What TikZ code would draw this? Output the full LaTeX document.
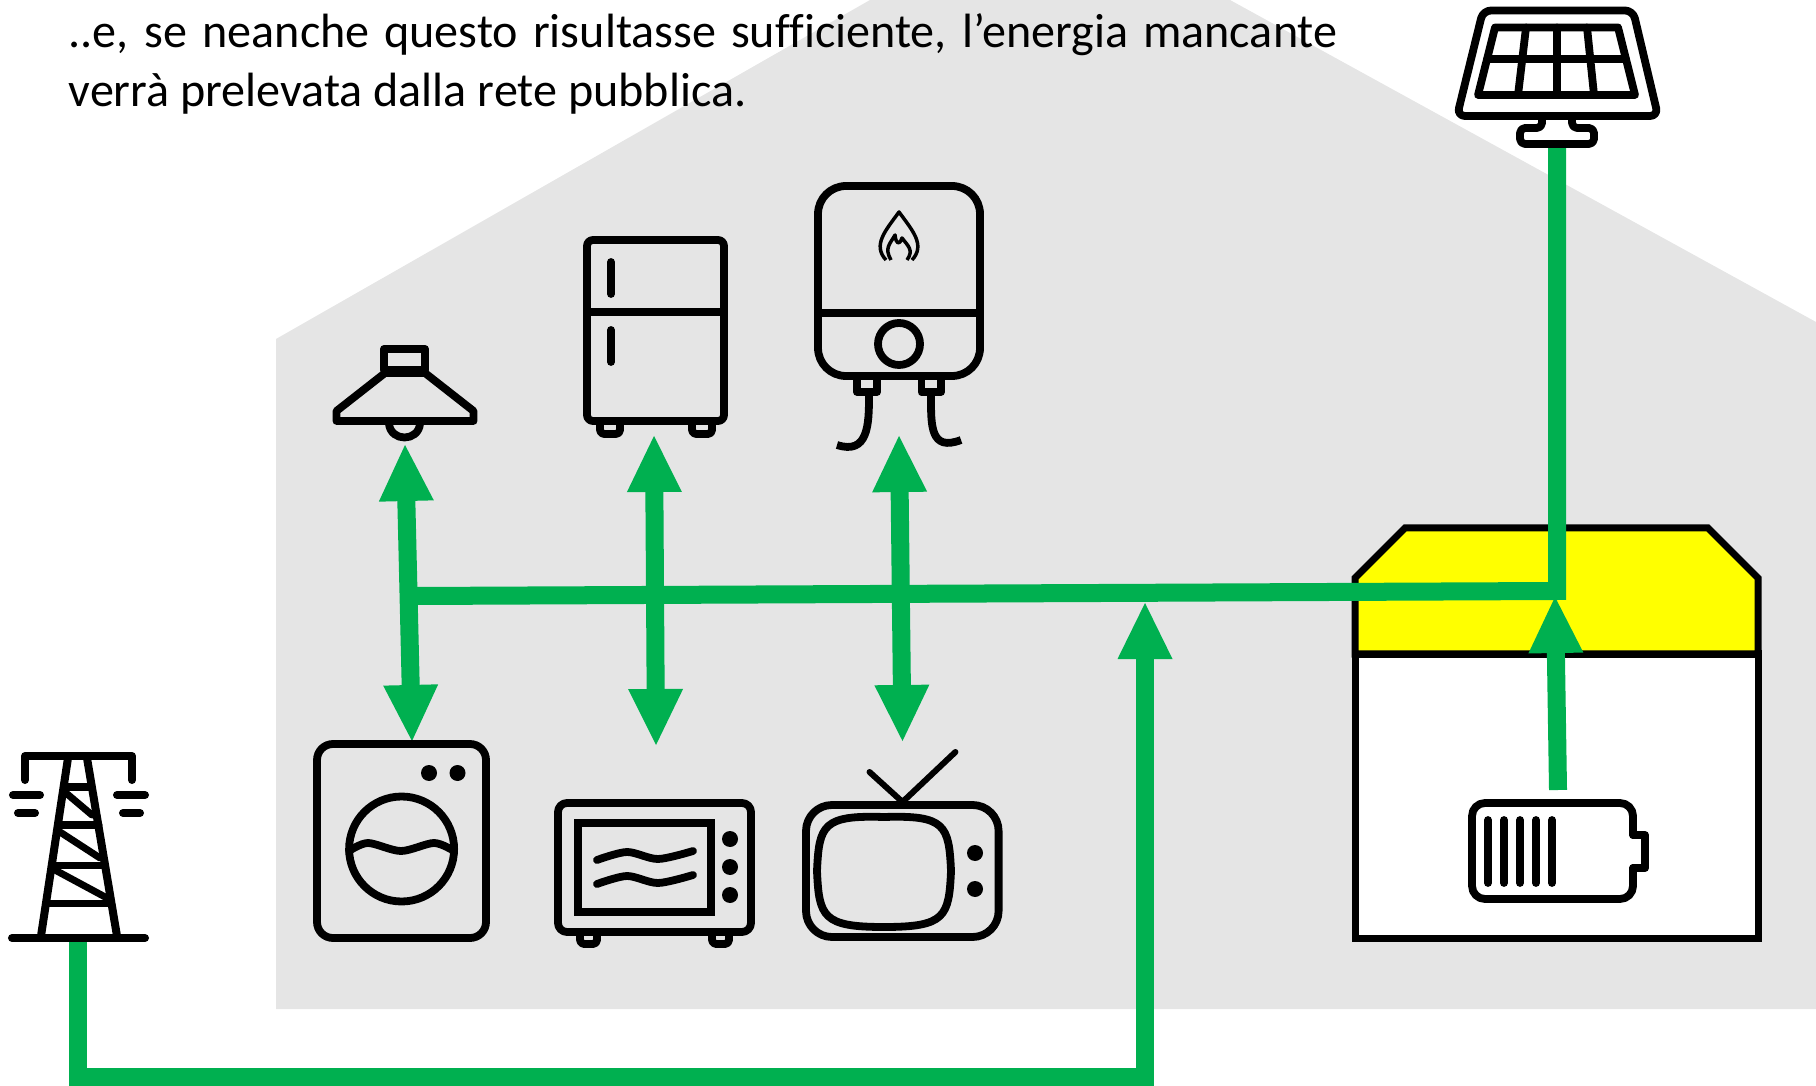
\documentclass[tikz,border=0pt]{standalone}
\usepackage{fontspec}
\setmainfont{Carlito}
\usetikzlibrary{arrows.meta}
\definecolor{flowgreen}{HTML}{00B050}
\definecolor{housegrey}{HTML}{E5E5E5}
\definecolor{boxyellow}{HTML}{FFFF00}
\tikzset{
  icon/.style={draw=black, line width=.078cm, line join=round, line cap=round},
  thinicon/.style={draw=black, line width=.035cm, line join=round},
  flowline/.style={draw=flowgreen, line width=.18cm, line join=miter},
  flowhead/.style={>={Triangle[length=.56cm,width=.55cm,line width=0pt,fill=flowgreen]}},
  dot/.style={fill=black}
}
\begin{document}
\begin{tikzpicture}[x=.01cm, y=-.01cm, flowhead]
  \useasboundingbox (0,0) rectangle (1816,1086);

  \fill[housegrey] (276,339) -- (870,0) -- (1230,0) -- (1816,322) -- (1816,1009) -- (276,1009) -- cycle;

  \node[anchor=north west, inner sep=0pt, text width=12.68cm, align=justify,
        font=\addfontfeatures{Ligatures=NoCommon}\fontsize{13.68pt}{16.8pt}\selectfont] (caption) at (68,13)
    {..e, se neanche questo risultasse sufficiente, l’energia mancante\linebreak verrà prelevata dalla rete pubblica.};

  \filldraw[fill=white, draw=black, line width=.07cm] (1355,654) rectangle (1758,938);
  \filldraw[fill=boxyellow, draw=black, line width=.07cm] (1355,654) -- (1355,578) -- (1405,528) -- (1708,528) -- (1758,578) -- (1758,654) -- cycle;

  \coordinate (hoodtip) at (405,445);
  \coordinate (washertip) at (412,741);
  \coordinate (fridgetip) at (654,436);
  \coordinate (oventip) at (656,745);
  \coordinate (heatertip) at (899,436);
  \coordinate (tvtip) at (902.5,741);
  \coordinate (solar) at (1557,147);
  \coordinate (corner) at (1557,591);
  \coordinate (busend) at (415,596);
  \coordinate (batterytop) at (1558,790);
  \coordinate (storagetip) at (1555,597);
  \coordinate (pylon) at (78,942);
  \coordinate (groundleft) at (78,1077);
  \coordinate (groundright) at (1145,1077);
  \coordinate (bustip) at (1145,603);

  \draw[flowline, <->] (hoodtip) -- (washertip);
  \draw[flowline, <->] (fridgetip) -- (oventip);
  \draw[flowline, <->] (heatertip) -- (tvtip);
  \draw[flowline] (solar) -- (corner) -- (busend);
  \draw[flowline, ->] (batterytop) -- (storagetip);
  \draw[flowline, ->] (pylon) -- (groundleft) -- (groundright) -- (bustip);

  % hood
  \draw[icon] (384,349) rectangle (425,370);
  \draw[icon] (385,373) -- (425,373) -- (473.5,411) -- (473.5,421) -- (336.5,421) -- (336.5,411) -- cycle;
  \draw[icon] (389,424) .. controls (391,442) and (418,442) .. (420,424);

  % fridge
  \draw[icon, rounded corners=.06cm] (587,240) rectangle (724,421);
  \draw[icon] (587,312) -- (724,312);
  \draw[icon] (611,262) -- (611,294);
  \draw[icon] (611,330) -- (611,362);
  \draw[icon, rounded corners=.04cm] (600,425) -- (600,434) -- (620,434) -- (620,425);
  \draw[icon, rounded corners=.04cm] (692,425) -- (692,434) -- (712,434) -- (712,425);

  % heater
  \draw[icon, rounded corners=.28cm] (818,186) rectangle (980,376);
  \draw[icon] (818,313) -- (980,313);
  \draw[icon] (899,344) circle (21);
  \draw[thinicon] (886,260) .. controls (872,245) and (886,230) .. (899,212) .. controls (912,230) and (926,245) .. (912,260);
  \draw[thinicon] (891,260) .. controls (884,248) and (890,244) .. (895,235) .. controls (896,244) and (899,246) .. (902,238) .. controls (908,246) and (914,250) .. (907,260);
  \draw[icon] (857,380) -- (857,392) -- (877,392) -- (877,380);
  \draw[icon] (921.5,380) -- (921.5,392) -- (941,392) -- (941,380);
  \draw[icon, line cap=butt] (869,396) .. controls (869,425) and (868,455) .. (837,445);
  \draw[icon, line cap=butt] (931,396) .. controls (931,425) and (930,452) .. (961,440);

  % washer
  \draw[icon, rounded corners=.16cm] (317,744) rectangle (486,938);
  \foreach \dotx in {429,457.5} \fill[dot] (\dotx,773) circle (8);
  \draw[icon] (401.6,849) circle (52.5);
  \draw[icon] plot[smooth] coordinates {(349,851) (368,843) (401,851) (434,843) (454,851)};

  % oven
  \draw[icon, rounded corners=.09cm] (558,803) rectangle (751,932);
  \draw[icon, line join=miter] (578,823) rectangle (711,912);
  \foreach \shift in {0,24}
    \draw[icon] plot[smooth] coordinates {(597,860+\shift) (627,852+\shift) (658,859+\shift) (693,851+\shift)};
  \foreach \doty in {839,867,895} \fill[dot] (730,\doty) circle (8);
  \draw[icon, rounded corners=.04cm] (580,933) -- (580,944) -- (597,944) -- (597,933);
  \draw[icon, rounded corners=.04cm] (712,933) -- (712,944) -- (729,944) -- (729,933);

  % tv
  \draw[icon, rounded corners=.26cm] (806,805) rectangle (998.6,937);
  \draw[icon] (884,817) .. controls (945,815) and (949,825) .. (951,871) .. controls (949,917) and (945,927) .. (884,927) .. controls (823,927) and (819,917) .. (817,871) .. controls (819,825) and (823,815) .. (884,817) -- cycle;
  \foreach \doty in {853,889} \fill[dot] (975,\doty) circle (8);
  \draw[icon, line width=.06cm] (869.5,772) -- (902.5,802) -- (955.4,752);

  % pylon
  \draw[icon, line width=.08cm] (25,780) -- (25,756) -- (132,756) -- (132,780);
  \draw[icon, line width=.08cm] (68,758) -- (41,936);
  \draw[icon, line width=.08cm] (87,758) -- (117,936);
  \draw[icon, line width=.08cm] (12,938) -- (145,938);
  \draw[icon, line width=.07cm] (64,787) -- (92,787);
  \draw[icon, line width=.07cm] (58,825) -- (99,825);
  \draw[icon, line width=.07cm] (52,865) -- (105,865);
  \draw[icon, line width=.07cm] (46,903) -- (111,903);
  \draw[icon, line width=.07cm] (66,793) -- (92,815);
  \draw[icon, line width=.07cm] (60,832) -- (100,858);
  \draw[icon, line width=.07cm] (55,870) -- (107,898);
  \draw[icon, line width=.08cm] (13,795) -- (40,795);
  \draw[icon, line width=.08cm] (18,813) -- (35,813);
  \draw[icon, line width=.08cm] (117,795) -- (145,795);
  \draw[icon, line width=.08cm] (123,813) -- (140,813);

  % solar panel
  \draw[icon, rounded corners=.08cm] (1483,10.5) -- (1633,10.5) -- (1658,116) -- (1457,116) -- cycle;
  \draw[icon] (1495,27.5) -- (1618,27.5) -- (1635,95) -- (1478,95) -- cycle;
  \draw[icon] (1487,59) -- (1626,59);
  \draw[icon] (1526,27.5) -- (1518,95);
  \draw[icon] (1557,27.5) -- (1557,95);
  \draw[icon] (1587,27.5) -- (1594,95);
  \draw[icon, rounded corners=.05cm] (1542,116) -- (1542,128) -- (1520,128) -- (1520,144) -- (1594,144) -- (1594,128) -- (1572,128) -- (1572,116);

  % battery
  \draw[icon, rounded corners=.13cm] (1633,835) -- (1633,803) -- (1472,803) -- (1472,899) -- (1633,899) -- (1633,868);
  \draw[icon] (1633,835) -- (1645,835) -- (1645,868) -- (1633,868);
  \foreach \barx in {1488,1504,1520,1536,1552} \draw[icon] (\barx,820) -- (\barx,883);
\end{tikzpicture}
\end{document}
